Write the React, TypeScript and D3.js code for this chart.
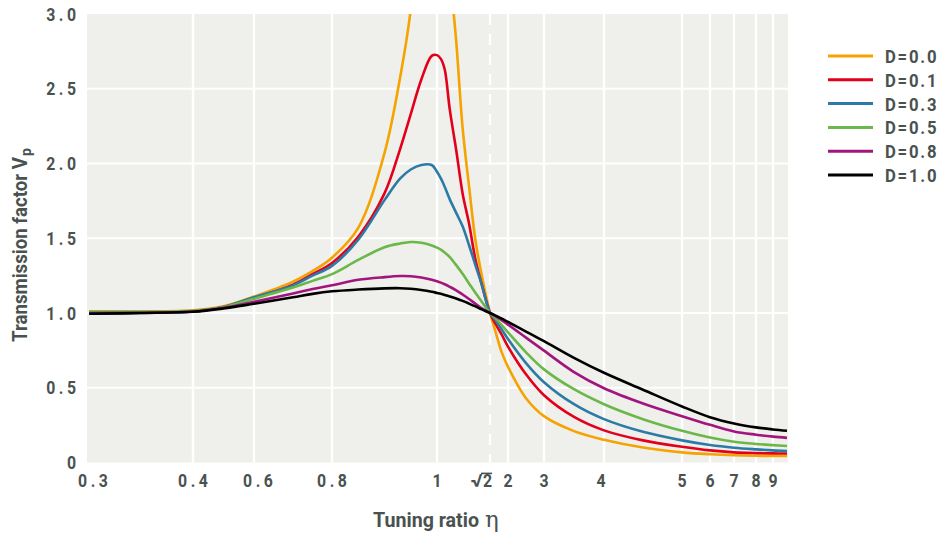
import React from "react";
import * as d3 from "d3";

const ETA = [0.3, 0.35, 0.4, 0.5, 0.6, 0.7, 0.75, 0.8, 0.85, 0.9, 0.93, 0.95, 0.97, 0.99, 1.0, 1.03, 1.06, 1.1, 1.15, 1.2, 1.25, 1.3, 1.35, Math.SQRT2, 1.6, 1.8, 2, 2.5, 3, 3.5, 4, 4.5, 5, 6, 7, 8, 9, 10];

const D00 = [1.01, 1.01, 1.018, 1.045, 1.11, 1.21, 1.28, 1.37, 1.57, 2.07, 2.58, 3.03, 3.8, 4.6, 4.8, 4.6, 4.0, 3.3, 2.82, 2.24, 1.85, 1.49, 1.25, 1.0, 0.87, 0.735, 0.64, 0.43, 0.31, 0.21, 0.152, 0.1, 0.068, 0.055, 0.048, 0.045, 0.044, 0.043];
const D01 = [1.0, 1.003, 1.012, 1.04, 1.1, 1.19, 1.26, 1.335, 1.51, 1.8, 2.1, 2.33, 2.56, 2.72, 2.725, 2.7, 2.63, 2.36, 2.09, 1.8, 1.6, 1.36, 1.19, 1.0, 0.925, 0.853, 0.775, 0.59, 0.45, 0.305, 0.215, 0.148, 0.105, 0.081, 0.068, 0.063, 0.061, 0.06];
const D03 = [0.995, 1.0, 1.01, 1.04, 1.105, 1.185, 1.25, 1.315, 1.49, 1.755, 1.9, 1.96, 1.99, 1.99, 1.945, 1.9, 1.845, 1.76, 1.67, 1.58, 1.455, 1.32, 1.19, 1.0, 0.952, 0.888, 0.826, 0.665, 0.537, 0.39, 0.29, 0.205, 0.148, 0.117, 0.099, 0.088, 0.081, 0.077];
const D05 = [1.01, 1.01, 1.015, 1.04, 1.095, 1.17, 1.215, 1.26, 1.355, 1.44, 1.465, 1.475, 1.47, 1.452, 1.437, 1.424, 1.405, 1.374, 1.32, 1.262, 1.198, 1.135, 1.076, 1.0, 0.964, 0.917, 0.871, 0.737, 0.623, 0.49, 0.39, 0.29, 0.212, 0.167, 0.139, 0.124, 0.116, 0.11];
const D08 = [1.0, 1.002, 1.01, 1.035, 1.075, 1.13, 1.16, 1.185, 1.222, 1.24, 1.247, 1.246, 1.237, 1.222, 1.212, 1.203, 1.192, 1.175, 1.152, 1.124, 1.094, 1.062, 1.031, 1.0, 0.978, 0.95, 0.922, 0.835, 0.748, 0.605, 0.497, 0.395, 0.31, 0.252, 0.208, 0.186, 0.173, 0.165];
const D10 = [0.995, 1.0, 1.008, 1.03, 1.062, 1.105, 1.128, 1.145, 1.157, 1.165, 1.166, 1.162, 1.154, 1.142, 1.134, 1.128, 1.121, 1.111, 1.097, 1.081, 1.063, 1.044, 1.024, 1.0, 0.982, 0.962, 0.94, 0.876, 0.812, 0.7, 0.6, 0.487, 0.375, 0.303, 0.261, 0.235, 0.221, 0.212];

const SERIES_NAMES = ["D=0.0", "D=0.1", "D=0.3", "D=0.5", "D=0.8", "D=1.0"];
const SERIES_VALUES = [D00, D01, D03, D05, D08, D10];
const SERIES_COLORS = ["#f5a300", "#e2001a", "#2b7ba6", "#6bb84a", "#a2157f", "#000000"];

const X_TICKS = [0.3, 0.4, 0.6, 0.8, 1, Math.SQRT2, 2, 3, 4, 5, 6, 7, 8, 9];
const X_TICK_LABELS = ["0.3", "0.4", "0.6", "0.8", "1", "√2", "2", "3", "4", "5", "6", "7", "8", "9"];
const Y_TICKS = [0, 0.5, 1.0, 1.5, 2.0, 2.5, 3.0];
const Y_TICK_LABELS = ["0", "0.5", "1.0", "1.5", "2.0", "2.5", "3.0"];

const FONT = "Roboto, 'Liberation Sans', sans-serif";
const TEXT_COLOR = "#4a524f";

type CTProps = {
  x: number; y: number; anchor?: "start" | "middle" | "end"; size: number; sx: number; ls: number;
  children: React.ReactNode;
};
function CText({ x, y, anchor = "start", size, sx, ls, children }: CTProps) {
  const shift = anchor === "end" ? ls * sx : anchor === "middle" ? (ls * sx) / 2 : 0;
  return (
    <text transform={`translate(${x + shift},${y}) scale(${sx},1)`} textAnchor={anchor}
      fontFamily={FONT} fontWeight="bold" fontSize={size} fill={TEXT_COLOR} letterSpacing={ls}>
      {children}
    </text>
  );
}

export default function App() {
  const W = 941, H = 533;
  const left = 87, right = 788, top = 14, bottom = 462.5;

  const x = d3.scaleLinear()
    .domain([0.3, 0.4, 0.6, 0.8, 1, Math.SQRT2, 2, 3, 4, 5, 6, 7, 8, 9, 10])
    .range([89, 193, 254, 332, 437, 490, 508, 544, 604, 682, 710, 734, 756, 773, 787]);
  const y = d3.scaleLinear().domain([0, 3]).range([bottom, top]);

  const line = d3.line<[number, number]>()
    .x((d) => x(d[0]))
    .y((d) => y(d[1]))
    .curve(d3.curveCatmullRom.alpha(0.5));

  const labelOffset = (t: number) => {
    if (t === 0.3) return 4;
    if (t === 0.6) return 4;
    if (t === 4) return -3;
    return 0;
  };

  const tickY = 487;
  const sq = x(Math.SQRT2);

  return (
    <svg width={W} height={H} style={{ position: "absolute", left: 0, top: 0, background: "#fff" }}>
      <defs>
        <clipPath id="plotclip">
          <rect x={left} y={top} width={right - left} height={bottom - top} />
        </clipPath>
      </defs>
      <rect x={left} y={top} width={right - left} height={bottom - top} fill="#efefeb" />
      {Y_TICKS.filter((t) => t > 0 && t < 3).map((t) => (
        <line key={"hy" + t} x1={left} x2={right} y1={y(t)} y2={y(t)} stroke="#fff" strokeWidth={2.2} />
      ))}
      {X_TICKS.filter((t) => t > 0.3).map((t) => (
        <line key={"vx" + t} x1={x(t)} x2={x(t)} y1={top} y2={bottom}
          stroke="#fff" strokeWidth={2.4}
          strokeDasharray={t === Math.SQRT2 ? "11 9" : undefined} />
      ))}
      <g clipPath="url(#plotclip)">
        {SERIES_VALUES.map((vals, si) => (
          <path key={SERIES_NAMES[si]}
            d={line(ETA.map((e, i) => [e, vals[i]] as [number, number])) || ""}
            fill="none" stroke={SERIES_COLORS[si]} strokeWidth={2.6} strokeLinejoin="round" />
        ))}
      </g>
      {Y_TICKS.map((t, i) => (
        <CText key={"yl" + t} x={76} y={y(t) + 6.5} anchor="end" size={18} sx={0.88} ls={4}>
          {Y_TICK_LABELS[i]}
        </CText>
      ))}
      {X_TICKS.map((t, i) => X_TICK_LABELS[i] === "√2" ? (
        <g key={"xl" + t}>
          <CText x={sq - 8} y={tickY} anchor="end" size={18} sx={1.15} ls={0}>√</CText>
          <CText x={sq - 7} y={tickY} anchor="start" size={18} sx={0.88} ls={0}>2</CText>
          <line x1={sq - 9} x2={sq + 2} y1={tickY - 13.6} y2={tickY - 13.6} stroke={TEXT_COLOR} strokeWidth={1.6} />
        </g>
      ) : (
        <CText key={"xl" + t} x={x(t) + labelOffset(t)} y={tickY} anchor="middle" size={18} sx={0.88} ls={4}>
          {X_TICK_LABELS[i]}
        </CText>
      ))}
      <text x={373} y={527} fontFamily={FONT} fontWeight="bold" fill={TEXT_COLOR} fontSize={21}
        textLength={106} lengthAdjust="spacingAndGlyphs">Tuning ratio</text>
      <text x={485} y={527} fontFamily="'DejaVu Serif', serif" fill={TEXT_COLOR} fontSize={23}>η</text>
      <g transform="translate(27,342) rotate(-90)">
        <text x={0} y={0} fontFamily={FONT} fontWeight="bold" fontSize={20} fill={TEXT_COLOR}
          textLength={185} lengthAdjust="spacingAndGlyphs">Transmission factor V</text>
        <text x={186} y={4} fontFamily={FONT} fontWeight="bold" fontSize={14} fill={TEXT_COLOR}>p</text>
      </g>
      {SERIES_NAMES.map((n, i) => {
        const ly = 56 + i * 23.8;
        return (
          <g key={"lg" + n}>
            <line x1={828} x2={873} y1={ly} y2={ly} stroke={SERIES_COLORS[i]} strokeWidth={3} />
            <CText x={885} y={ly + 7} size={19} sx={0.88} ls={2}>{n}</CText>
          </g>
        );
      })}
    </svg>
  );
}
